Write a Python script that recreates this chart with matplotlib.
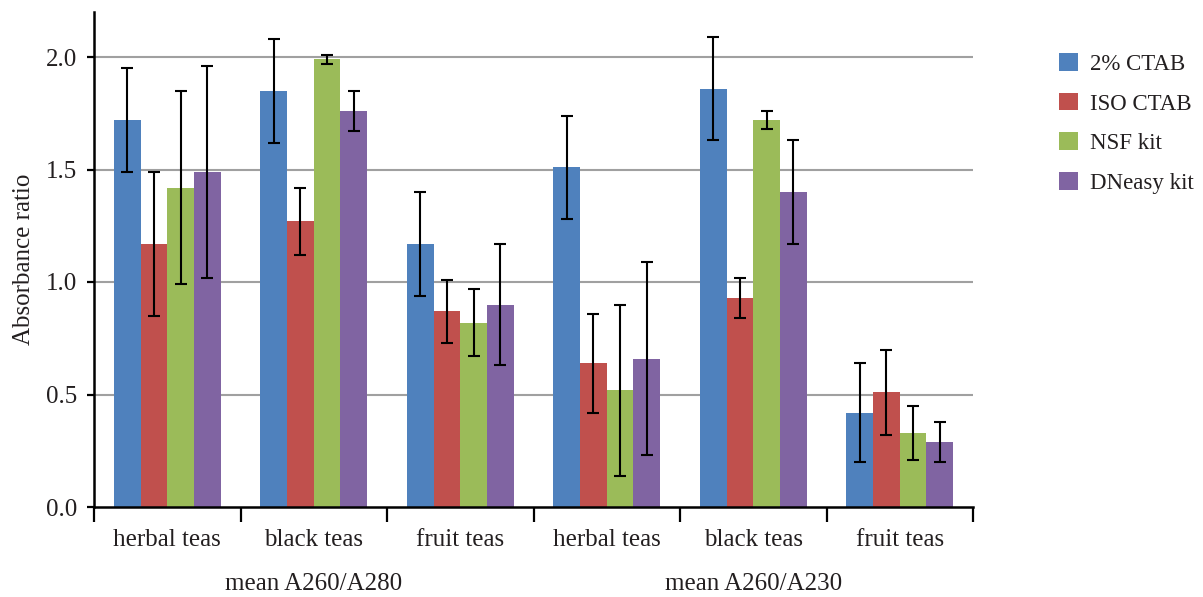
import numpy as np
import matplotlib
matplotlib.use('Agg')
import matplotlib.pyplot as plt
from matplotlib.ticker import MultipleLocator, FixedLocator

plt.rcParams['font.family'] = ['Liberation Serif', 'DejaVu Serif']

# ── Data ──────────────────────────────────────────────────────────────────────
categories = ["herbal teas", "black teas", "fruit teas",
              "herbal teas", "black teas", "fruit teas"]
ratio_groups = ["mean A260/A280", "mean A260/A230"]
methods = ["2% CTAB", "ISO CTAB", "NSF kit", "DNeasy kit"]

ctab2_mean   = [1.72, 1.85, 1.17, 1.51, 1.86, 0.42]
ctab2_err    = [0.23, 0.23, 0.23, 0.23, 0.23, 0.22]
isoctab_mean = [1.17, 1.27, 0.87, 0.64, 0.93, 0.51]
isoctab_err  = [0.32, 0.15, 0.14, 0.22, 0.09, 0.19]
nsf_mean     = [1.42, 1.99, 0.82, 0.52, 1.72, 0.33]
nsf_err      = [0.43, 0.02, 0.15, 0.38, 0.04, 0.12]
dneasy_mean  = [1.49, 1.76, 0.90, 0.66, 1.40, 0.29]
dneasy_err   = [0.47, 0.09, 0.27, 0.43, 0.23, 0.09]

means  = [ctab2_mean, isoctab_mean, nsf_mean, dneasy_mean]
errs   = [ctab2_err, isoctab_err, nsf_err, dneasy_err]
colors = ["#4F81BD", "#C0504D", "#9BBB59", "#8064A2"]
FS = 18
TXT = "#231f20"

# ── Figure ────────────────────────────────────────────────────────────────────
fig = plt.figure(figsize=(12.03, 5.97), dpi=100)
ax = fig.add_axes([94/1203, 90/597, (973-94)/1203, (507-12)/597])

x = np.arange(len(categories)) + 0.5
w = 0.182
for k, (m, e, c, lab) in enumerate(zip(means, errs, colors, methods)):
    ax.bar(x + (k - 1.5)*w, m, width=w, color=c, label=lab, zorder=2,
           yerr=e, error_kw=dict(ecolor="black", elinewidth=1.5,
                                 capsize=4.5, capthick=1.5, zorder=3))

ax.set_xlim(0, 6)
ax.set_ylim(0, 2.2)
ax.yaxis.set_major_locator(FixedLocator([0, 0.5, 1.0, 1.5, 2.0]))
ax.yaxis.set_major_formatter(matplotlib.ticker.FormatStrFormatter("%.1f"))
for yv in [0.5, 1.0, 1.5, 2.0]:
    ax.axhline(yv, color="#a0a0a0", linewidth=1.5, zorder=1)

ax.xaxis.set_major_locator(MultipleLocator(1))
ax.xaxis.set_major_formatter(matplotlib.ticker.NullFormatter())
ax.xaxis.set_minor_locator(FixedLocator(x))
ax.xaxis.set_minor_formatter(matplotlib.ticker.FixedFormatter(categories))
ax.tick_params(axis="x", which="major", length=11, width=1.6, color="black")
ax.tick_params(axis="x", which="minor", length=0, pad=16, labelsize=FS,
               labelcolor=TXT)
ax.tick_params(axis="y", length=5, width=1.6, labelsize=FS,
               labelcolor=TXT, pad=7)

for s in ["top", "right"]:
    ax.spines[s].set_visible(False)
for s in ["left", "bottom"]:
    ax.spines[s].set_linewidth(1.8)

ax.set_ylabel("Absorbance ratio", fontsize=FS, color=TXT, labelpad=8)

for g, lab in enumerate(ratio_groups):
    ax.text(1.5 + 3*g, -0.34, lab, ha="center", va="center",
            fontsize=FS, color=TXT,
            transform=ax.transData, clip_on=False)

leg = fig.legend(loc="upper left", bbox_to_anchor=(1050/1203, 1 - 44/597),
                 frameon=False, fontsize=16.5, handlelength=0.8,
                 handleheight=0.8, handletextpad=0.55, labelspacing=0.78,
                 borderaxespad=0)
for t in leg.get_texts():
    t.set_color(TXT)

fig.savefig("out.png", dpi=100)
